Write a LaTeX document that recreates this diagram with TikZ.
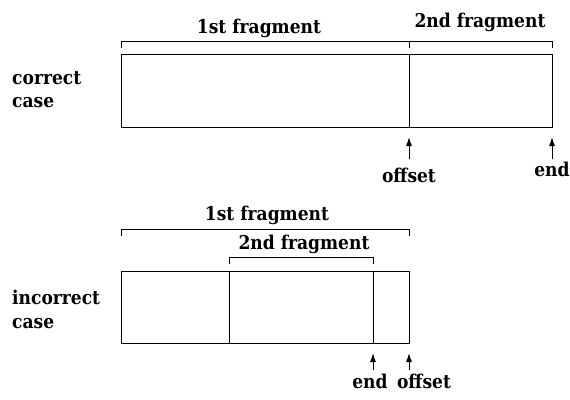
\documentclass[tikz,border=0pt]{standalone}
\usepackage{fontspec}
\newfontfamily\lblfont{DejaVu Serif Condensed}
\usetikzlibrary{arrows.meta}
\begin{document}
\begin{tikzpicture}[x=1pt,y=-1pt,
  seg/.style={draw, line width=0.9pt, inner sep=0pt, outer sep=0pt, anchor=north west},
  lbl/.style={font=\lblfont\bfseries\fontsize{19}{20}\selectfont, inner sep=0pt, anchor=base},
  side/.style={font=\lblfont\bfseries\fontsize{19}{23.5}\selectfont, inner sep=0pt, anchor=north west, align=left},
  brk/.style={line width=0.8pt},
  ptr/.style={line width=1pt, -{Latex[length=9pt,width=6pt]}, shorten >=10pt}]
\useasboundingbox (0,0) rectangle (570,399);
% correct case
\node[seg, minimum width=288, minimum height=73] (a1) at (121,54) {};
\node[seg, minimum width=143, minimum height=73] (a2) at (409,54) {};
\draw[brk] (121,48) -- (121,41) -- (552,41) -- (552,48);
\draw[brk] (409,41) -- (409,48);
\node[lbl] (f1) at (259,33) {1st fragment};
\node[lbl] (f2) at (480,27) {2nd fragment};
\node[side] (c1) at (12,71) {correct\\case};
\node[lbl] (off1) at (409,182) {offset};
\node[lbl] (end1) at (552,176) {end};
\draw[ptr] (409,159) -- (a1.south east);
\draw[ptr] (552,159) -- (a2.south east);
% incorrect case
\node[seg, minimum width=108, minimum height=72] (b1) at (121,271) {};
\node[seg, minimum width=144, minimum height=72] (b2) at (229,271) {};
\node[seg, minimum width=36, minimum height=72] (b3) at (373,271) {};
\draw[brk] (121,236) -- (121,229) -- (409,229) -- (409,236);
\draw[brk] (229,264) -- (229,257) -- (373,257) -- (373,264);
\node[lbl] (g1) at (267,220) {1st fragment};
\node[lbl] (g2) at (304,249) {2nd fragment};
\node[side] (c2) at (12,290) {incorrect\\case};
\node[lbl] (end2) at (370,388) {end};
\node[lbl] (off2) at (424,388) {offset};
\draw[ptr] (373,370) -- (b2.south east);
\draw[ptr] (409,370) -- (b3.south east);
\end{tikzpicture}
\end{document}
